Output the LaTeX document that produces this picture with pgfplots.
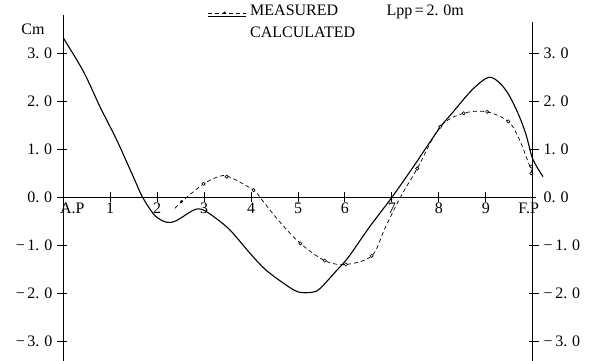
\documentclass[border=0pt]{standalone}
\usepackage{fontspec}
\setmainfont{Liberation Serif}
\usepackage{pgfplots}
\pgfplotsset{compat=1.18}
\newcommand{\fs}{\fontsize{16}{18}\selectfont}
\newcommand{\dd}[1]{#1.\hspace{0.3em}0}
\begin{document}
\begin{tikzpicture}
\path[use as bounding box] (-63.3pt,-163.7pt) rectangle (531.7pt,197.3pt);
\begin{axis}[
  at={(0pt,0pt)}, anchor=origin,
  x=46.94pt, y=48pt,
  xmin=0, xmax=10, ymin=-3.41, ymax=3.8,
  axis x line=middle, axis y line=left,
  axis line style={-, line width=1.1pt},
  hide obscured x ticks=false, hide obscured y ticks=false,
  clip=false,
  major tick length=7pt,
  tick align=center,
  tick style={line width=0.9pt, black},
  xtick={0,1,2,3,4,5,6,7,8,9,10},
  xticklabels={\makebox[0pt]{\hspace{18pt}A.P},1,2,3,4,5,6,7,8,9,\makebox[0pt]{F.P\hspace{8pt}}},
  ytick={-3,-2,-1,0,1,2,3},
  yticklabels={−\,\dd{3},−\,\dd{2},−\,\dd{1},\dd{0},\dd{1},\dd{2},\dd{3}},
  tick label style={font=\fs},
  xticklabel style={yshift=1pt},
  yticklabel style={xshift=-4pt},
  ylabel={Cm},
  ylabel style={at={(axis cs:-0.645,3.49)}, rotate=-90, anchor=center, font=\fs},
  legend style={at={(axis cs:3.06,4.05)}, anchor=north west, draw=none, fill=none,
    inner sep=0pt, font=\fs, row sep=-3pt, column sep=2pt},
  legend cell align=left,
]
\addplot[black, line width=0.7pt, dash pattern=on 4pt off 3pt, smooth, tension=0.55,
  legend image code/.code={\draw[black, line width=0.7pt, dash pattern=on 4pt off 3pt] (0pt,-2pt)--(38pt,-2pt); \fill[black] (17pt,-2pt) circle (1.1pt);}]
coordinates {
(2.38,-0.23) (2.52,-0.09) (2.99,0.28) (3.34,0.44) (3.55,0.42) (4.05,0.15) (4.23,-0.05)
(4.6,-0.5) (5.05,-0.96) (5.57,-1.32) (6.02,-1.40) (6.57,-1.22) (6.85,-0.65) (7.18,0.0)
(7.54,0.60) (8.03,1.47) (8.53,1.75) (9.03,1.78) (9.48,1.58) (9.69,1.26) (9.86,0.85) (10.0,0.48)
};
\addlegendentry{MEASURED}
\addplot[black, line width=1.1pt, smooth, tension=0.5,
  legend image code/.code={\draw[black, line width=1.1pt] (0pt,16pt)--(38pt,16pt);}]
coordinates {
(0,3.32) (0.43,2.62) (0.78,1.89) (1.14,1.19) (1.49,0.43) (1.69,0.0) (1.95,-0.38) (2.2,-0.52)
(2.4,-0.49) (2.77,-0.27) (2.95,-0.25) (3.2,-0.40) (3.55,-0.68) (3.98,-1.17) (4.3,-1.5)
(4.69,-1.79) (5.0,-1.97) (5.3,-1.98) (5.47,-1.9) (5.8,-1.55) (6.08,-1.24) (6.5,-0.65)
(7.0,0.0) (7.46,0.64) (8.0,1.42) (8.28,1.75) (8.71,2.24) (9.06,2.5) (9.3,2.38)
(9.5,2.12) (9.7,1.72) (9.86,1.3) (10.0,0.8) (10.22,0.43)
};
\addlegendentry{CALCULATED}
\addplot[only marks, mark=*, mark size=1.6pt, mark options={fill=white, line width=0.6pt, draw=black}, forget plot]
coordinates {
(2.99,0.28) (3.48,0.43) (4.05,0.15) (5.05,-0.96) (5.57,-1.32) (6.02,-1.40) (6.57,-1.22)
(7.54,0.60) (8.03,1.47) (8.53,1.75) (9.03,1.78) (9.48,1.58) (9.97,0.64) (9.97,0.50)
};
\addplot[only marks, mark=*, mark size=1.2pt, black, forget plot] coordinates {(2.52,-0.09)};
\pgfplotsinvokeforeach{1,2,3,4,5,6,7,8,9}{
  \draw[black, line width=1pt] (axis cs:#1,-0.1) -- (axis cs:#1,0.1);
}
\pgfplotsinvokeforeach{-3,-2,-1,0,1,2,3}{
  \draw[black, line width=0.9pt] (axis cs:0,#1) -- ++(-6pt,0pt);
}
\node[font=\fs, anchor=center] at (axis cs:7.71,3.86) {Lpp\,=\,\dd{2}m};
\end{axis}
\begin{axis}[
  at={(0pt,0pt)}, anchor=origin,
  x=46.94pt, y=48pt,
  xmin=0, xmax=10, ymin=-3.41, ymax=3.66,
  axis x line=none, axis y line=right,
  axis line style={-, line width=1.1pt},
  clip=false,
  major tick length=7pt, tick align=center,
  tick style={line width=0.9pt, black},
  ytick={-3,-2,-1,0,1,2,3},
  yticklabels={−\,\dd{3},−\,\dd{2},−\,\dd{1},\dd{0},\dd{1},\dd{2},\dd{3}},
  tick label style={font=\fs},
  yticklabel style={xshift=4pt},
]
\pgfplotsinvokeforeach{-3,-2,-1,1,2,3}{
  \draw[black, line width=0.9pt] (axis cs:10,#1) -- ++(6pt,0pt);
}
\end{axis}
\end{tikzpicture}
\end{document}
